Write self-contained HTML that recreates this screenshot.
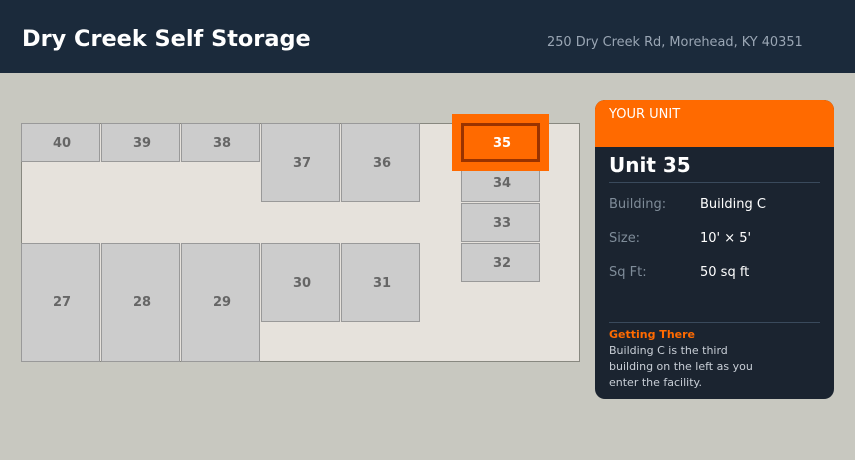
<!DOCTYPE html>
<html><head><meta charset="utf-8"><style>
html,body{margin:0;padding:0;width:855px;height:460px;overflow:hidden;background:#c8c8c0}
svg{display:block}
text{font-family:"DejaVu Sans","Liberation Sans",sans-serif}
</style></head><body>
<svg width="855" height="460" viewBox="0 0 855 460" xmlns="http://www.w3.org/2000/svg">
<rect x="0" y="0" width="855" height="460" fill="#c8c8c0"/>
<rect x="0" y="0" width="855" height="73" fill="#1b2a3b"/>
<text x="22" y="46" font-size="22.4" font-weight="bold" fill="#ffffff">Dry Creek Self Storage</text>
<text x="547" y="46" font-size="12.9" fill="#9aa6b4">250 Dry Creek Rd, Morehead, KY 40351</text>

<rect x="21.5" y="123.5" width="558" height="238" fill="#e6e2dc" stroke="#888880" stroke-width="1"/>
<g fill="#cccccc" stroke="#999999" stroke-width="1">
<rect x="21.5" y="123.5" width="78" height="38"/>
<rect x="101.5" y="123.5" width="78" height="38"/>
<rect x="181.5" y="123.5" width="78" height="38"/>
<rect x="261.5" y="123.5" width="78" height="78"/>
<rect x="341.5" y="123.5" width="78" height="78"/>
<rect x="21.5" y="243.5" width="78" height="118"/>
<rect x="101.5" y="243.5" width="78" height="118"/>
<rect x="181.5" y="243.5" width="78" height="118"/>
<rect x="261.5" y="243.5" width="78" height="78"/>
<rect x="341.5" y="243.5" width="78" height="78"/>
<rect x="461.5" y="163.5" width="78" height="38"/>
<rect x="461.5" y="203.5" width="78" height="38"/>
<rect x="461.5" y="243.5" width="78" height="38"/>
</g>
<g font-size="13" font-weight="bold" fill="#666666" text-anchor="middle">
<text x="62" y="147">40</text><text x="142" y="147">39</text><text x="222" y="147">38</text>
<text x="302" y="167">37</text><text x="382" y="167">36</text>
<text x="62" y="306">27</text><text x="142" y="306">28</text><text x="222" y="306">29</text>
<text x="302" y="287">30</text><text x="382" y="287">31</text>
<text x="502" y="187">34</text><text x="502" y="227">33</text><text x="502" y="267">32</text>
</g>
<rect x="452" y="114" width="97" height="57" fill="#ff6a00"/>
<rect x="462.5" y="124.5" width="76" height="36" fill="#ff6a00" stroke="#993300" stroke-width="3"/>
<text x="502" y="147" font-size="13" font-weight="bold" fill="#ffffff" text-anchor="middle">35</text>

<rect x="595" y="100" width="239" height="299" rx="10" fill="#1b2430"/>
<path d="M595 147 V110 a10 10 0 0 1 10 -10 H824 a10 10 0 0 1 10 10 V147 Z" fill="#ff6a00"/>
<text x="609" y="118" font-size="13" fill="#ffffff">YOUR UNIT</text>
<text x="609" y="172" font-size="20" font-weight="bold" fill="#ffffff">Unit 35</text>
<line x1="609" y1="182.5" x2="820" y2="182.5" stroke="#3a4a5c" stroke-width="1"/>
<g font-size="13">
<text x="609" y="208" fill="#7f8c99">Building:</text><text x="700" y="208" fill="#ffffff">Building C</text>
<text x="609" y="242" fill="#7f8c99">Size:</text><text x="700" y="242" fill="#ffffff">10' × 5'</text>
<text x="609" y="276" fill="#7f8c99">Sq Ft:</text><text x="700" y="276" fill="#ffffff">50 sq ft</text>
</g>
<line x1="609" y1="322.5" x2="820" y2="322.5" stroke="#3a4a5c" stroke-width="1"/>
<text x="609" y="338" font-size="11" font-weight="bold" fill="#ff6a00">Getting There</text>
<g font-size="11" fill="#c8ced6">
<text x="609" y="354">Building C is the third</text>
<text x="609" y="370">building on the left as you</text>
<text x="609" y="386">enter the facility.</text>
</g>
</svg>
</body></html>
